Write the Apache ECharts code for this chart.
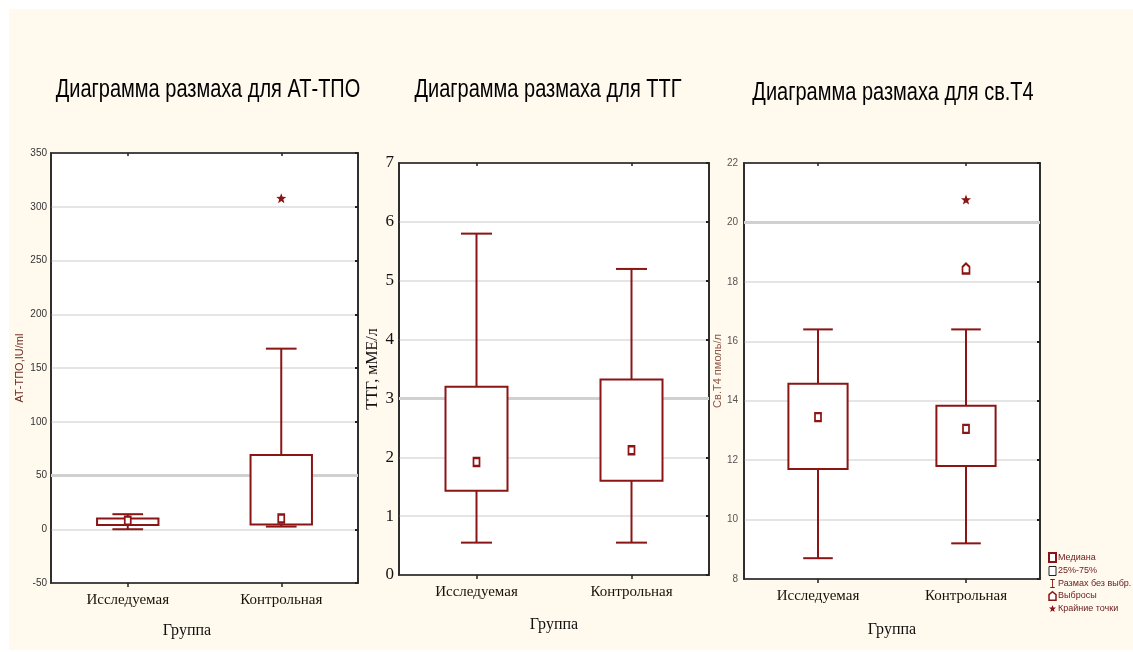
<!DOCTYPE html>
<html>
<head>
<meta charset="utf-8">
<script src="https://cdn.jsdelivr.net/npm/echarts@6/dist/echarts.min.js"></script>
<style>
html,body{margin:0;padding:0;background:#ffffff;}
#chart{width:1133px;height:652px;}
</style>
</head>
<body>
<div id="chart"></div>
<script>
// ---------- data ----------
const categories = ['Исследуемая', 'Контрольная'];
const titles = ['Диаграмма размаха для АТ-ТПО', 'Диаграмма размаха для ТТГ', 'Диаграмма размаха для св.Т4'];
const yNames = ['АТ-ТПО,IU/ml', 'ТТГ, мМЕ/л', 'Св.Т4 пмоль/л'];
const xName = 'Группа';
const legendNames = ['Медиана', '25%-75%', 'Размах без выбр.', 'Выбросы', 'Крайние точки'];

// АТ-ТПО
const atMin = [0, 2.5];
const atQ1 = [4, 4.5];
const atMedian = [8, 10];
const atQ3 = [10, 69];
const atMax = [14, 168];
const atOutliers = [];
const atExtremes = [[1, 308]];

// ТТГ
const ttgMin = [0.55, 0.55];
const ttgQ1 = [1.43, 1.6];
const ttgMedian = [1.92, 2.12];
const ttgQ3 = [3.2, 3.32];
const ttgMax = [5.8, 5.2];
const ttgOutliers = [];
const ttgExtremes = [];

// св.Т4
const t4Min = [8.7, 9.2];
const t4Q1 = [11.7, 11.8];
const t4Median = [13.45, 13.05];
const t4Q3 = [14.57, 13.83];
const t4Max = [16.4, 16.4];
const t4Outliers = [[1, 18.45]];
const t4Extremes = [[1, 20.77]];

// axis ranges
const yMins = [-50, 0, 8];
const yMaxs = [350, 7, 22];
const yIntervals = [50, 1, 2];
const refLines = [50, 3, 20];

// ---------- styling / layout ----------
const RED = '#8b1414';
const grids = [
  {left: 51, right: 775, top: 153, bottom: 69},
  {left: 399, right: 424, top: 163, bottom: 77},
  {left: 744, right: 93, top: 163, bottom: 73}
];
const titlePos = [{x: 208, y: 90}, {x: 548, y: 90}, {x: 893, y: 93}];
const sets = [
  {min: atMin, q1: atQ1, med: atMedian, q3: atQ3, max: atMax, out: atOutliers, ext: atExtremes},
  {min: ttgMin, q1: ttgQ1, med: ttgMedian, q3: ttgQ3, max: ttgMax, out: ttgOutliers, ext: ttgExtremes},
  {min: t4Min, q1: t4Q1, med: t4Median, q3: t4Q3, max: t4Max, out: t4Outliers, ext: t4Extremes}
];
const sansFont = '"Liberation Sans Narrow", "Liberation Sans", sans-serif';
const serifFont = '"Liberation Serif", "DejaVu Serif", serif';
const yLabelStyles = [
  {fontFamily: sansFont, fontSize: 10, color: '#333', margin: 4},
  {fontFamily: serifFont, fontSize: 17, color: '#111', margin: 5},
  {fontFamily: sansFont, fontSize: 10, color: '#555', margin: 6}
];
const yNameStyles = [
  {fontFamily: sansFont, fontSize: 11, color: '#6b2a20', gap: 26},
  {fontFamily: serifFont, fontSize: 16, color: '#111', gap: 18},
  {fontFamily: sansFont, fontSize: 11, color: '#8a5a4a', gap: 19}
];
const xNamePad = [[0, 35, 0, 0], [0, 0, 0, 0], [0, 0, 0, 0]];
const xNameGap = [40, 42, 43];

const STAR = 'path://M5,0L6.3,3.6L10,3.8L7.1,6.2L8.1,10L5,7.9L1.9,10L2.9,6.2L0,3.8L3.7,3.6Z';
const HOUSE = 'path://M5,0L10,4L10,12L0,12L0,4Z';
const IBEAM = 'path://M0,0H10V2H6V18H10V20H0V18H4V2H0Z';

const xAxes = [], yAxes = [], series = [], gridOpts = [], graphics = [];

graphics.push({type: 'rect', silent: true, z: -10,
  shape: {x: 9, y: 9, width: 1124, height: 641}, style: {fill: '#fff9ee'}});

titles.forEach((t, i) => {
  graphics.push({type: 'text', x: titlePos[i].x, y: titlePos[i].y, z: 10, scaleX: 0.8, originX: 0,
    style: {text: t, fill: '#000', font: '25px "Liberation Sans", sans-serif',
      textAlign: 'center', textVerticalAlign: 'middle'}});
});

for (let i = 0; i < 3; i++) {
  gridOpts.push(Object.assign({show: true, backgroundColor: '#ffffff', borderColor: '#222', borderWidth: 1.5}, grids[i]));
  xAxes.push({
    type: 'category', gridIndex: i, data: categories, position: 'bottom',
    name: xName, nameLocation: 'middle', nameGap: xNameGap[i],
    nameTextStyle: {fontFamily: serifFont, fontSize: 16, color: '#111', padding: xNamePad[i]},
    axisLine: {show: true, onZero: false, lineStyle: {color: '#222', width: 1.5}},
    axisTick: {show: true, alignWithLabel: true, length: 4, lineStyle: {color: '#222', width: 1.5}},
    axisLabel: {fontFamily: serifFont, fontSize: 15, color: '#1a1208', margin: 10},
    splitLine: {show: false}
  });
  yAxes.push({
    type: 'value', gridIndex: i, min: yMins[i], max: yMaxs[i], interval: yIntervals[i],
    name: yNames[i], nameLocation: 'middle', nameGap: yNameStyles[i].gap,
    nameTextStyle: {fontFamily: yNameStyles[i].fontFamily, fontSize: yNameStyles[i].fontSize, color: yNameStyles[i].color},
    axisLine: {show: true, onZero: false, lineStyle: {color: '#222', width: 1.5}},
    axisTick: {show: false},
    axisLabel: {fontFamily: yLabelStyles[i].fontFamily, fontSize: yLabelStyles[i].fontSize,
      color: yLabelStyles[i].color, margin: yLabelStyles[i].margin},
    splitLine: {show: true, lineStyle: {color: '#dcdcdc', width: 1.5}}
  });
}
// secondary (top / right) axes for the inner ticks
for (let i = 0; i < 3; i++) {
  xAxes.push({
    type: 'category', gridIndex: i, data: categories, position: 'top',
    axisLine: {show: true, onZero: false, lineStyle: {color: '#222', width: 1.5}},
    axisTick: {show: true, inside: true, alignWithLabel: true, length: 3, lineStyle: {color: '#222', width: 1.5}},
    axisLabel: {show: false}, splitLine: {show: false}
  });
  yAxes.push({
    type: 'value', gridIndex: i, min: yMins[i], max: yMaxs[i], interval: yIntervals[i], position: 'right',
    axisLine: {show: true, onZero: false, lineStyle: {color: '#222', width: 1.5}},
    axisTick: {show: true, inside: true, length: 3, lineStyle: {color: '#222', width: 2}},
    axisLabel: {show: false}, splitLine: {show: false}
  });
}

for (let i = 0; i < 3; i++) {
  const s = sets[i];
  const rows = categories.map((c, k) => [k, s.min[k], s.q1[k], s.med[k], s.q3[k], s.max[k]]);

  // whiskers
  series.push({
    name: 'Размах без выбр.', type: 'custom', xAxisIndex: i, yAxisIndex: i, z: 2,
    data: rows, encode: {x: 0, y: [1, 2, 4, 5]},
    itemStyle: {color: RED},
    markLine: {silent: true, symbol: 'none', label: {show: false},
      lineStyle: {color: '#d0d0d0', width: 3, type: 'solid'}, z: 1,
      data: [{yAxis: refLines[i]}]},
    renderItem: function (params, api) {
      const x = api.value(0);
      const pMin = api.coord([x, api.value(1)]);
      const pQ1 = api.coord([x, api.value(2)]);
      const pQ3 = api.coord([x, api.value(4)]);
      const pMax = api.coord([x, api.value(5)]);
      const band = api.size([1, 0])[0];
      const cw = band * 0.2;
      const st = {stroke: RED, lineWidth: 2};
      return {type: 'group', children: [
        {type: 'line', shape: {x1: pMin[0], y1: pMin[1], x2: pQ1[0], y2: pQ1[1]}, style: st},
        {type: 'line', shape: {x1: pQ3[0], y1: pQ3[1], x2: pMax[0], y2: pMax[1]}, style: st},
        {type: 'line', shape: {x1: pMin[0] - cw / 2, y1: pMin[1], x2: pMin[0] + cw / 2, y2: pMin[1]}, style: st},
        {type: 'line', shape: {x1: pMax[0] - cw / 2, y1: pMax[1], x2: pMax[0] + cw / 2, y2: pMax[1]}, style: st}
      ]};
    }
  });
  // boxes
  series.push({
    name: '25%-75%', type: 'custom', xAxisIndex: i, yAxisIndex: i, z: 3,
    data: rows, encode: {x: 0, y: [2, 4]},
    itemStyle: {color: '#fff', borderColor: RED},
    renderItem: function (params, api) {
      const x = api.value(0);
      const pQ1 = api.coord([x, api.value(2)]);
      const pQ3 = api.coord([x, api.value(4)]);
      const band = api.size([1, 0])[0];
      const bw = band * 0.4;
      return {type: 'rect',
        shape: {x: pQ1[0] - bw / 2, y: pQ3[1], width: bw, height: pQ1[1] - pQ3[1]},
        style: {fill: '#fff', stroke: RED, lineWidth: 2}};
    }
  });
  // medians
  series.push({
    name: 'Медиана', type: 'scatter', xAxisIndex: i, yAxisIndex: i, z: 5,
    data: categories.map((c, k) => [k, s.med[k]]),
    symbol: 'rect', symbolSize: [6, 8],
    itemStyle: {color: '#fff', borderColor: RED, borderWidth: 2, opacity: 1}
  });
  if (s.out.length) {
    series.push({
      name: 'Выбросы', type: 'scatter', xAxisIndex: i, yAxisIndex: i, z: 5,
      data: s.out, symbol: HOUSE, symbolSize: [7, 10],
      itemStyle: {color: '#fff', borderColor: RED, borderWidth: 2, opacity: 1}
    });
  }
  if (s.ext.length) {
    series.push({
      name: 'Крайние точки', type: 'scatter', xAxisIndex: i, yAxisIndex: i, z: 5,
      data: s.ext, symbol: STAR, symbolSize: 10,
      itemStyle: {color: RED, opacity: 1}
    });
  }
}

const chart = echarts.init(document.getElementById('chart'), null, {renderer: 'canvas'});
chart.setOption({
  backgroundColor: 'transparent',
  animation: false,
  graphic: graphics,
  grid: gridOpts,
  xAxis: xAxes,
  yAxis: yAxes,
  legend: {
    orient: 'vertical', left: 1043, top: 547, itemGap: 3, itemWidth: 7, itemHeight: 9,
    textStyle: {fontFamily: sansFont, fontSize: 9, color: '#6b2020', padding: [0, 0, 0, -3]},
    selectedMode: false,
    data: [
      {name: legendNames[0], icon: 'rect', itemStyle: {color: '#fff', borderColor: RED, borderWidth: 2}},
      {name: legendNames[1], icon: 'rect', itemStyle: {color: '#fff', borderColor: '#222', borderWidth: 1}},
      {name: legendNames[2], icon: IBEAM, itemStyle: {color: RED}},
      {name: legendNames[3], icon: HOUSE, itemStyle: {color: '#fff', borderColor: RED, borderWidth: 1.5}},
      {name: legendNames[4], icon: STAR, itemStyle: {color: RED}}
    ]
  },
  series: series
});
</script>
</body>
</html>
